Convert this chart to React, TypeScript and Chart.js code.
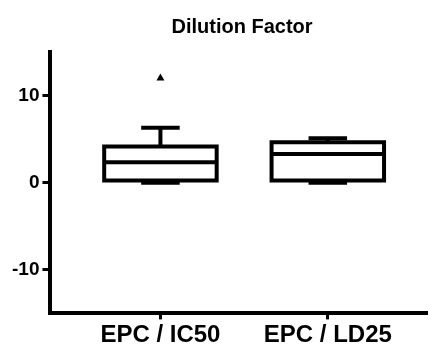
import React, { useEffect, useRef } from 'react';
import { Chart, registerables } from 'chart.js';

Chart.register(...registerables);

// ---- data ----
const chartTitle = 'Dilution Factor';
const categories = ['EPC / IC50', 'EPC / LD25'];
const minValues = [0, 0];
const q1Values = [0.25, 0.25];
const medianValues = [2.35, 3.3];
const q3Values = [4.15, 4.65];
const maxValues = [6.3, 5.1];
const outlierValues: number[][] = [[12], []];
const yTickValues = [-10, 0, 10];
const yMin = -15;
const yMax = 15;

// ---- style constants ----
const BOX_HALF = 0.336;
const CAP_HALF = 0.115;
const X_MIN = 0.343;
const X_MAX = 2.595;
const FONT = '"Liberation Sans", Arial, Helvetica, sans-serif';

const titlePlugin = {
  id: 'centeredTitle',
  afterDraw(chart: any) {
    const { ctx } = chart;
    ctx.save();
    ctx.font = `bold 20px ${FONT}`;
    ctx.fillStyle = '#000';
    ctx.textAlign = 'center';
    ctx.textBaseline = 'alphabetic';
    ctx.fillText(chartTitle, 242, 32.5);
    ctx.restore();
  },
};

function lineDs(points: { x: number; y: number }[]) {
  return {
    type: 'scatter' as const,
    data: points,
    showLine: true,
    borderColor: '#000',
    backgroundColor: '#000',
    borderWidth: 4,
    pointRadius: 0,
    pointHoverRadius: 0,
    fill: false,
    tension: 0,
    borderJoinStyle: 'miter' as const,
    borderCapStyle: 'butt' as const,
  };
}

function buildDatasets() {
  const ds: any[] = [];
  categories.forEach((_, i) => {
    const c = i + 1;
    const q1 = q1Values[i];
    const q3 = q3Values[i];
    const med = medianValues[i];
    const mn = minValues[i];
    const mx = maxValues[i];
    // upper whisker & cap
    ds.push(lineDs([{ x: c, y: q3 }, { x: c, y: mx }]));
    ds.push(lineDs([{ x: c - CAP_HALF, y: mx }, { x: c + CAP_HALF, y: mx }]));
    // lower whisker & cap
    ds.push(lineDs([{ x: c, y: q1 }, { x: c, y: mn }]));
    ds.push(lineDs([{ x: c - CAP_HALF, y: mn }, { x: c + CAP_HALF, y: mn }]));
    // box
    ds.push(
      lineDs([
        { x: c, y: q1 },
        { x: c + BOX_HALF, y: q1 },
        { x: c + BOX_HALF, y: q3 },
        { x: c - BOX_HALF, y: q3 },
        { x: c - BOX_HALF, y: q1 },
        { x: c, y: q1 },
      ])
    );
    // median
    ds.push(lineDs([{ x: c - BOX_HALF, y: med }, { x: c + BOX_HALF, y: med }]));
  });
  const outliers: { x: number; y: number }[] = [];
  outlierValues.forEach((arr, i) => arr.forEach((v) => outliers.push({ x: i + 1, y: v })));
  ds.push({
    type: 'scatter' as const,
    data: outliers,
    showLine: false,
    pointStyle: 'triangle',
    pointRadius: 4.6,
    pointBackgroundColor: '#000',
    pointBorderColor: '#000',
    pointBorderWidth: 0,
  });
  return ds;
}

export default function App() {
  const canvasRef = useRef<HTMLCanvasElement | null>(null);

  useEffect(() => {
    if (!canvasRef.current) return;
    const chart = new Chart(canvasRef.current, {
      type: 'scatter',
      data: { datasets: buildDatasets() },
      options: {
        animation: false,
        responsive: true,
        maintainAspectRatio: false,
        layout: { padding: { top: 52, left: 9, right: 0, bottom: -6 } },
        plugins: {
          legend: { display: false },
          tooltip: { enabled: false },
          title: { display: false },
        },
        events: [],
        scales: {
          x: {
            type: 'linear',
            min: X_MIN,
            max: X_MAX,
            afterBuildTicks: (axis: any) => {
              axis.ticks = categories.map((_, i) => ({ value: i + 1 }));
            },
            border: { display: true, color: '#000', width: 4 },
            grid: {
              display: true,
              drawOnChartArea: false,
              drawTicks: true,
              tickLength: 6,
              tickWidth: 3,
              tickColor: '#000',
            },
            ticks: {
              color: '#000',
              padding: 5,
              maxRotation: 0,
              autoSkip: false,
              font: { family: FONT, size: 24, weight: 'bold', lineHeight: 0.9 },
              callback: (v: any) => categories[Math.round(Number(v)) - 1] ?? '',
            },
          },
          y: {
            type: 'linear',
            min: yMin,
            max: yMax,
            afterBuildTicks: (axis: any) => {
              axis.ticks = yTickValues.map((v) => ({ value: v }));
            },
            border: { display: true, color: '#000', width: 4 },
            grid: {
              display: true,
              drawOnChartArea: false,
              drawTicks: true,
              tickLength: 8,
              tickWidth: 3,
              tickColor: '#000',
            },
            ticks: {
              color: '#000',
              padding: 3,
              font: { family: FONT, size: 19, weight: 'bold' },
              callback: (v: any) => String(v),
            },
          },
        },
      },
      plugins: [titlePlugin],
    });
    return () => chart.destroy();
  }, []);

  return (
    <div style={{ position: 'fixed', left: 0, top: 0, width: 432, height: 345, background: '#fff' }}>
      <canvas ref={canvasRef} />
    </div>
  );
}
